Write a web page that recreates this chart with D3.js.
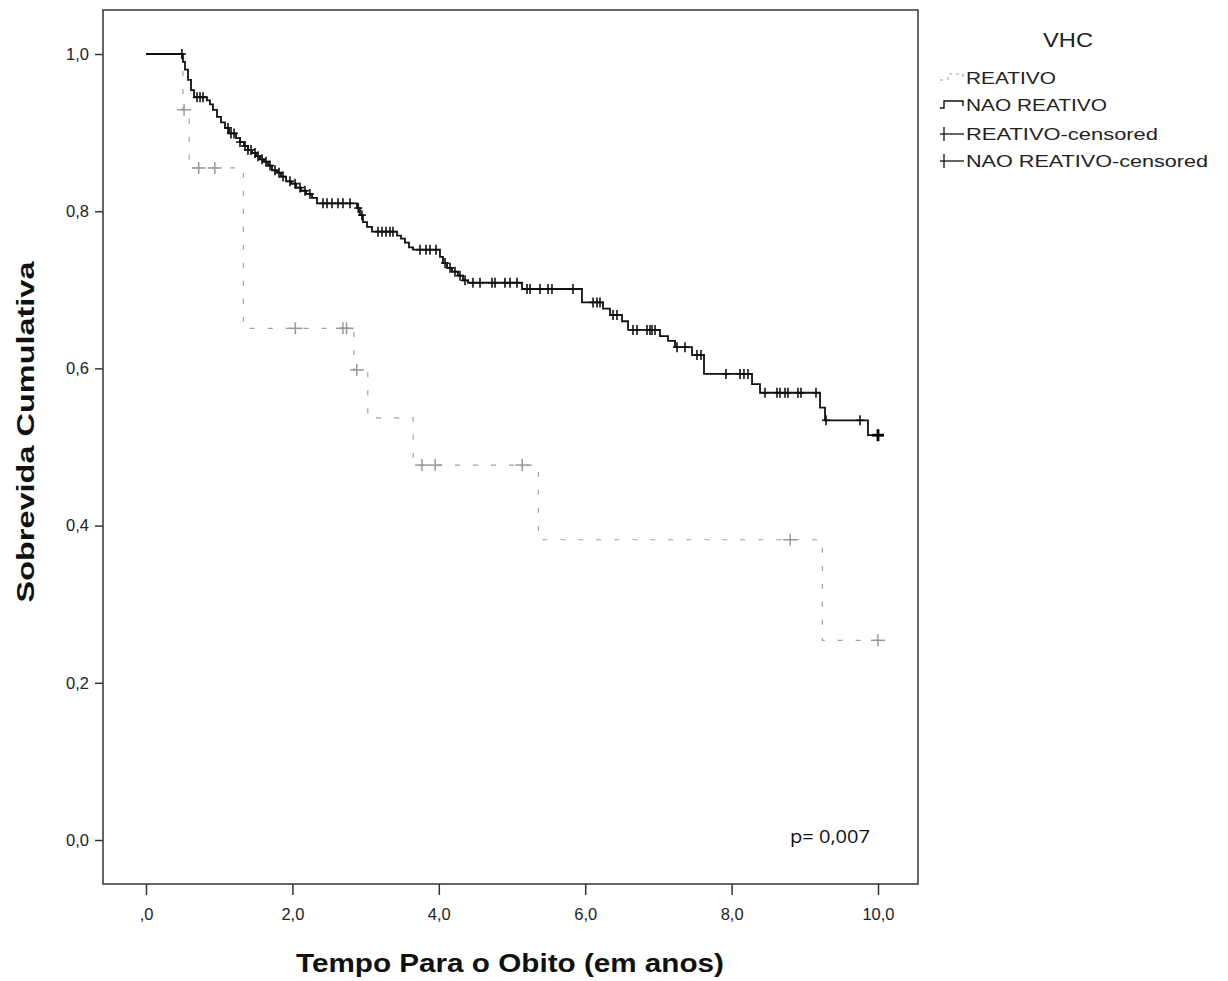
<!DOCTYPE html>
<html><head><meta charset="utf-8">
<script src="https://cdn.jsdelivr.net/npm/d3@7"></script>
<style>body{margin:0;background:#fff}svg{display:block}</style>
</head><body>
<svg id="c" width="1228" height="981"></svg>
<script>
// ---- data ----
const xTicks = [0, 2, 4, 6, 8, 10];
const xTickLabels = [",0", "2,0", "4,0", "6,0", "8,0", "10,0"];
const yTicks = [0, 0.2, 0.4, 0.6, 0.8, 1.0];
const yTickLabels = ["0,0", "0,2", "0,4", "0,6", "0,8", "1,0"];

// REATIVO: step events (time, survival after event)
const reatTimes = [0, 0.505, 0.59, 1.33, 2.84, 3.03, 3.65, 5.36, 9.24, 10.0];
const reatSurv  = [1.0, 0.929, 0.855, 0.651, 0.598, 0.537, 0.477, 0.382, 0.254, 0.254];
const reatCens  = [0.52, 0.72, 0.94, 2.04, 2.69, 2.74, 2.88, 3.77, 3.95, 5.14, 8.80, 10.0];

// NAO REATIVO
const naoTimes = [0, 0.505, 0.533, 0.574, 0.615, 0.656, 0.833, 0.874, 0.915, 0.970, 1.025, 1.079, 1.134,
  1.230, 1.284, 1.339, 1.393, 1.448, 1.503, 1.557, 1.612, 1.667, 1.721, 1.790, 1.844, 1.913, 1.981,
  2.049, 2.117, 2.186, 2.268, 2.336, 2.883, 2.923, 2.964, 3.019, 3.087, 3.429, 3.484, 3.538, 3.593,
  3.648, 4.016, 4.057, 4.112, 4.180, 4.262, 4.331, 4.399, 5.137, 5.956, 6.243, 6.339, 6.503, 6.585,
  7.022, 7.131, 7.227, 7.459, 7.623, 8.279, 8.388, 9.208, 9.276, 9.863, 10.0];
const naoSurv = [1.0, 0.990, 0.980, 0.967, 0.954, 0.945, 0.941, 0.936, 0.929, 0.920, 0.913, 0.906, 0.899,
  0.893, 0.888, 0.883, 0.878, 0.874, 0.870, 0.866, 0.863, 0.858, 0.852, 0.849, 0.844, 0.838, 0.835,
  0.830, 0.826, 0.822, 0.817, 0.810, 0.804, 0.795, 0.786, 0.780, 0.774, 0.769, 0.765, 0.760, 0.754,
  0.751, 0.742, 0.734, 0.728, 0.723, 0.718, 0.712, 0.709, 0.701, 0.684, 0.676, 0.668, 0.660, 0.649,
  0.641, 0.635, 0.627, 0.617, 0.593, 0.580, 0.569, 0.550, 0.534, 0.515, 0.515];
const naoCens = [0.49, 0.697, 0.738, 0.779, 1.120, 1.161, 1.202, 1.284, 1.352, 1.393, 1.434, 1.489, 1.530,
  1.585, 1.639, 1.694, 1.762, 1.817, 1.872, 1.967, 2.036, 2.104, 2.172, 2.240, 2.418, 2.473, 2.541,
  2.623, 2.691, 2.787, 2.90, 2.95, 3.169, 3.224, 3.279, 3.333, 3.374, 3.743, 3.825, 3.880, 3.962,
  4.085, 4.153, 4.221, 4.290, 4.358, 4.467, 4.563, 4.727, 4.768, 4.904, 4.973, 5.068, 5.205, 5.246,
  5.383, 5.492, 5.546, 5.833, 6.107, 6.161, 6.202, 6.380, 6.434, 6.653, 6.708, 6.844, 6.885, 6.913,
  6.954, 7.254, 7.363, 7.527, 7.582, 7.923, 8.115, 8.169, 8.224, 8.456, 8.620, 8.661, 8.730, 8.770,
  8.907, 8.948, 9.153, 9.290, 9.754];
const naoLast = [10.0];

const legendLabels = ["REATIVO", "NAO REATIVO", "REATIVO-censored", "NAO REATIVO-censored"];

// ---- drawing ----
const svg = d3.select("#c");
const x = d3.scaleLinear().domain([0, 10]).range([146, 878]);
const y = d3.scaleLinear().domain([0, 1]).range([840, 54]);
const frame = {l: 103, t: 10, r: 918, b: 884};
const font = "'Liberation Sans', Arial, sans-serif";

function stepAt(times, surv, t) {
  let s = surv[0];
  for (let i = 0; i < times.length; i++) if (times[i] <= t) s = surv[i];
  return s;
}
const line = d3.line().x(d => x(d[0])).y(d => y(d[1])).curve(d3.curveStepAfter);

// frame
svg.append("rect").attr("x", frame.l).attr("y", frame.t)
  .attr("width", frame.r - frame.l).attr("height", frame.b - frame.t)
  .attr("fill", "none").attr("stroke", "#333").attr("stroke-width", 1.5);

// axes
const yAxis = d3.axisLeft(y).tickValues(yTicks).tickSize(8).tickSizeOuter(0)
  .tickFormat((d, i) => yTickLabels[i]);
const gy = svg.append("g").attr("transform", `translate(${frame.l},0)`).call(yAxis);
gy.select(".domain").remove();
gy.selectAll("line").attr("stroke", "#333").attr("stroke-width", 1.5);
gy.selectAll("text").attr("font-family", font).attr("font-size", 16.5).attr("fill", "#222").attr("x", -14);

const xAxis = d3.axisBottom(x).tickValues(xTicks).tickSize(11).tickSizeOuter(0)
  .tickFormat((d, i) => xTickLabels[i]);
const gx = svg.append("g").attr("transform", `translate(0,${frame.b})`).call(xAxis);
gx.select(".domain").remove();
gx.selectAll("line").attr("stroke", "#333").attr("stroke-width", 1.5);
gx.selectAll("text").attr("font-family", font).attr("font-size", 16.5).attr("fill", "#222").attr("y", 24);

// curves
const reatData = reatTimes.map((t, i) => [t, reatSurv[i]]);
const naoData = naoTimes.map((t, i) => [t, naoSurv[i]]);

svg.append("path").datum(reatData).attr("d", line).attr("fill", "none")
  .attr("stroke", "#a0a0a0").attr("stroke-width", 1.2).attr("stroke-dasharray", "5,13");
svg.append("path").datum(naoData).attr("d", line).attr("fill", "none")
  .attr("stroke", "#111").attr("stroke-width", 1.8);

function plus(g, cx, cy, hw, hh, color, sw) {
  g.append("line").attr("x1", cx - hw).attr("x2", cx + hw).attr("y1", cy).attr("y2", cy)
    .attr("stroke", color).attr("stroke-width", sw);
  g.append("line").attr("x1", cx).attr("x2", cx).attr("y1", cy - hh).attr("y2", cy + hh)
    .attr("stroke", color).attr("stroke-width", sw);
}
const gc = svg.append("g");
reatCens.forEach(t => plus(gc, x(t), y(stepAt(reatTimes, reatSurv, t)), 7, 6, "#999", 1.5));
naoCens.forEach(t => plus(gc, x(t), y(stepAt(naoTimes, naoSurv, t)), 4, 5, "#111", 1.6));
naoLast.forEach(t => plus(gc, x(t), y(stepAt(naoTimes, naoSurv, t)), 6, 6, "#000", 2.8));

// p value
svg.append("text").attr("x", 790).attr("y", 843).attr("font-family", "'Open Sans', sans-serif")
  .attr("font-size", 19).attr("fill", "#111").attr("textLength", 80).attr("lengthAdjust", "spacingAndGlyphs")
  .text("p= 0,007");

// axis titles
svg.append("text").attr("x", 510).attr("y", 972).attr("text-anchor", "middle")
  .attr("font-family", font).attr("font-weight", "bold").attr("font-size", 25).attr("fill", "#111")
  .attr("textLength", 428).attr("lengthAdjust", "spacingAndGlyphs")
  .text("Tempo Para o Obito (em anos)");
svg.append("text").attr("transform", "translate(34,432) rotate(-90)").attr("text-anchor", "middle")
  .attr("font-family", font).attr("font-weight", "bold").attr("font-size", 23).attr("fill", "#111")
  .attr("textLength", 341).attr("lengthAdjust", "spacingAndGlyphs")
  .text("Sobrevida Cumulativa");

// legend
const lg = svg.append("g").attr("font-family", font).attr("fill", "#222");
lg.append("text").attr("x", 1068).attr("y", 47).attr("text-anchor", "middle")
  .attr("font-size", 20).attr("textLength", 50).attr("lengthAdjust", "spacingAndGlyphs").text("VHC");
const ly = [84, 111, 140, 167];
const lw = [90, 141, 192, 242];
legendLabels.forEach((lab, i) => {
  lg.append("text").attr("x", 966).attr("y", ly[i]).attr("font-size", 17)
    .attr("textLength", lw[i]).attr("lengthAdjust", "spacingAndGlyphs").text(lab);
});
// REATIVO symbol (gray dashed step)
lg.append("path").attr("d", `M940,${ly[0]-4} L944,${ly[0]-4} M948,${ly[0]-4} L948,${ly[0]-10} L963,${ly[0]-10} L963,${ly[0]-4}`)
  .attr("fill", "none").attr("stroke", "#aaa").attr("stroke-width", 1.2).attr("stroke-dasharray", "3,4");
// NAO REATIVO symbol
lg.append("path").attr("d", `M940,${ly[1]-3} L944,${ly[1]-3} L944,${ly[1]-10} L963,${ly[1]-10} L963,${ly[1]-5}`)
  .attr("fill", "none").attr("stroke", "#111").attr("stroke-width", 1.4);
// censored symbols
[2, 3].forEach(i => {
  const cy = ly[i] - 6;
  lg.append("line").attr("x1", 940).attr("x2", 964).attr("y1", cy).attr("y2", cy)
    .attr("stroke", "#222").attr("stroke-width", 1.4);
  lg.append("line").attr("x1", 944).attr("x2", 944).attr("y1", cy - 7).attr("y2", cy + 7)
    .attr("stroke", "#222").attr("stroke-width", 1.4);
});
</script>
</body></html>
